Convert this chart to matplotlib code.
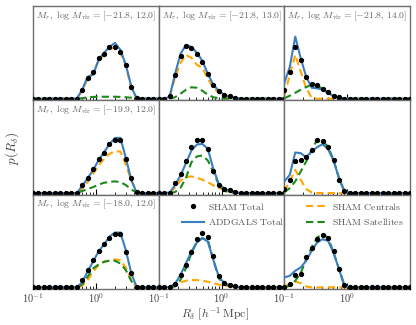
import numpy as np
import matplotlib
matplotlib.use("Agg")
import matplotlib.pyplot as plt
from matplotlib.lines import Line2D

plt.rcParams['mathtext.fontset'] = 'cm'
plt.rcParams['font.family'] = ['DejaVu Serif']

# bin centres (R_delta, h^-1 Mpc)
R = np.logspace(-1, 1, 24)

def pad(v, n=24):
    return list(v) + [0] * (n - len(v))

# ---- row 0 ----
P00_sham = pad([0,0,0,0,0,0,0,0,0,9,20.7,27.3,40.7,44.7,52.3,51.7,47.3,34,11.7,1])
P00_add  = pad([0,0,0,0,0,0,0,0,0,9,22,24,39,46,52,56,49,34,12,0])
P00_cen  = pad([0,0,0,0,0,0,0,0,0,8,20,26,38,44,50,51,46,33,11,0])
P00_sat  = pad([0,0,0,0,0,0,0,0,0,0.5,1.5,1.8,2,2,2,2,1.8,1.5,1,0.3])

P01_sham = pad([0,0,2.3,24,43,53,51.3,44.7,37.3,25,14,8,4,2.3,1])
P01_add  = pad([0,0,2,25,45,54,52,46,38,25,14,8,4,2,1])
P01_cen  = pad([0,0,2,21,36,44,41,34,31,20,11,6,3,1.5,0.5])
P01_sat  = pad([0,0,0,1.5,5,9,11.5,11,8,4,1.5,0.5])

P02_sham = pad([9,27.3,52.3,39,22.3,15,14,10,6.3,3,1.3])
P02_add  = pad([15.7,32,62.3,40.7,22,11,10.5,9,6,2.5,0.5])
P02_cen  = pad([3,24,44,27.3,10.7,1])
P02_sat  = pad([0.5,3,6,9,11.7,14,13,10,6,3,1])

# ---- row 1 ----
P10_sham = pad([0,0,0,0,0,0,0,0,0,7.7,15.3,24.3,34.3,40,49.3,53.7,53.3,34,15.3,1])
P10_add  = pad([0,0,0,0,0,0,0,0,0,7,15,23,33,41,49,55.3,55.3,35,13,0])
P10_cen  = pad([0,0,0,0,0,0,0,0,0,4.3,11,19.3,27.7,34.3,39.3,42,41.7,28,12.7,1])
P10_sat  = pad([0,0,0,0,0,0,0,0,0,2,4,6,8.5,10.3,11.3,11.7,11,8,3.5,0.5])

P11_sham = pad([0,0,0.5,10,18.7,32.3,46,53.3,53.3,44.3,22,8,4.3,2.7,1])
P11_add  = pad([0,0,0.5,8,17.7,30,42.7,48.7,49.3,44.3,24.3,9.3,4.5,2.5,1.2])
P11_cen  = pad([0,0,0.5,5.3,12.7,16,16.7,15.3,13.3,11,7.7,5.3,3.3,2,1,0.3])
P11_sat  = pad([0,0,0,1,5.3,15.3,31,36.7,37.7,32.7,21,8.7,2.3,0.7,0.3])

P12_sham = pad([4,13.3,32.3,33.3,36,42.7,53.3,52.7,46.7,32.7,13.3,1.7])
P12_add  = pad([11.7,18.3,40.7,40,36,41.7,46,49,44,32.7,15,1.7])
P12_cen  = pad([1.7,11.7,23.3,13.3,4,0.7])
P12_sat  = pad([0.7,5,11.7,21.7,31.7,43.3,53.3,51.7,46.7,33.3,15,1.7])

# ---- row 2 ----
P20_sham = pad([0,0,0,0,0,0,0,0,0,7.3,17.3,27.3,36.7,43.3,50,54,54,36,14.7,0.7])
P20_add  = pad([0,0,0,0,0,0,0,0,0,5,16,26,36,43,51,55,55,37,14,0])
P20_cen  = pad([0,0,0,0,0,0,0,0,0,1.7,7.3,15.7,22.3,25.7,27.3,28,27.3,19.7,7.3,0])
P20_sat  = pad([0,0,0,0,0,0,0,0,0,3,10.7,19,23,25.7,26.7,26.7,24,17.3,6.3,0])

P21_sham = pad([0,0,0.3,3.7,12.7,22.7,36,48.3,54.3,51,31,11,4.3,2.7,1])
P21_add  = pad([0,0,0.3,3.7,12.7,24.3,36,45,49.3,46,27.7,11,4.3,2.3,1])
P21_cen  = pad([0,0,0.7,2.7,5,6.7,7.3,7.3,6.7,5.7,4.3,2.7,1.7,1,0.3])
P21_sat  = pad([0,0,0,1,7.7,19.3,34.3,46,49.3,47.7,27.7,9.3,3.3,1.7,0.7])

P22_sham = pad([0,3.3,12.3,13.3,30,40,49,52.7,50,36.7,18.3,2.3])
P22_add  = pad([10,11.7,16.7,20,26.7,36.7,45,48.3,46.7,35,18.3,1.7])
P22_cen  = pad([1,3.3,6,4.3,1])
P22_sat  = pad([0,1.7,6.7,14.3,28.3,40,50,53.3,50,35,19,1.7])

panels = [
    [(P00_sham, P00_add, P00_cen, P00_sat),
     (P01_sham, P01_add, P01_cen, P01_sat),
     (P02_sham, P02_add, P02_cen, P02_sat)],
    [(P10_sham, P10_add, P10_cen, P10_sat),
     (P11_sham, P11_add, P11_cen, P11_sat),
     (P12_sham, P12_add, P12_cen, P12_sat)],
    [(P20_sham, P20_add, P20_cen, P20_sat),
     (P21_sham, P21_add, P21_cen, P21_sat),
     (P22_sham, P22_add, P22_cen, P22_sat)],
]

labels = {
    (0, 0): r"$M_r,\ \log\,M_{\rm vir}\,{=}[-21.8,\,12.0]$",
    (0, 1): r"$M_r,\ \log\,M_{\rm vir}\,{=}[-21.8,\,13.0]$",
    (0, 2): r"$M_r,\ \log\,M_{\rm vir}\,{=}[-21.8,\,14.0]$",
    (1, 0): r"$M_r,\ \log\,M_{\rm vir}\,{=}[-19.9,\,12.0]$",
    (2, 0): r"$M_r,\ \log\,M_{\rm vir}\,{=}[-18.0,\,12.0]$",
}

BLUE = '#3a7ebf'
ORANGE = '#ffa500'
GREEN = '#1a8a1a'
SPINE = '#6e6e6e'

fig, axes = plt.subplots(3, 3, figsize=(4.16, 3.25), dpi=100, sharex=True, sharey=True)
fig.subplots_adjust(left=33/416, right=410/416, top=1-6/325, bottom=1-289/325,
                    wspace=0, hspace=0)

for i in range(3):
    for j in range(3):
        ax = axes[i, j]
        sham, add, cen, sat = panels[i][j]
        ax.plot(R, add, color=BLUE, lw=1.5, zorder=3)
        ax.plot(R, cen, color=ORANGE, lw=1.5, ls=(0, (3.5, 2)), zorder=2)
        ax.plot(R, sat, color=GREEN, lw=1.5, ls=(0, (3.5, 2)), zorder=2)
        ax.plot(R, sham, 'o', color='black', ms=2.8, zorder=4)
        ax.set_xscale('log')
        for s in ax.spines.values():
            s.set_color(SPINE)
            s.set_linewidth(1.0)
        ax.tick_params(axis='x', which='major', direction='in', length=4, width=0.8,
                       colors='black', labelsize=7.5, labelcolor='#444444', pad=2)
        ax.tick_params(axis='x', which='minor', direction='in', length=2, width=0.6,
                       colors='black')
        ax.tick_params(axis='y', which='both', left=False, labelleft=False)
        if (i, j) in labels:
            ax.text(0.025, 0.965, labels[(i, j)], transform=ax.transAxes,
                    ha='left', va='top', fontsize=7.0, color='#666666')

axes[0, 0].set_xlim(0.1, 10)
axes[0, 0].set_ylim(-1.6, 93)
axes[0, 0].set_xticks([0.1, 1])
for j in range(3):
    axes[2, j].set_xticklabels([r'$10^{-1}$', r'$10^{0}$'])

fig.text(215/416, 1-314/325, r"$R_\delta\ [h^{-1}\,\mathrm{Mpc}]$", ha='center',
         va='center', fontsize=8.5, color='#444444')
fig.text(12/416, 1-148/325, r"$p(R_\delta)$", ha='center', va='center',
         rotation=90, fontsize=9.5, color='#444444')

handles = [
    Line2D([], [], marker='o', ls='none', color='black', ms=2.8),
    Line2D([], [], color=BLUE, lw=1.5),
    Line2D([], [], color=ORANGE, lw=1.5, ls=(0, (3.5, 2))),
    Line2D([], [], color=GREEN, lw=1.5, ls=(0, (3.5, 2))),
]
leg_labels = [r"$\rm SHAM\ Total$", r"$\rm ADDGALS\ Total$",
              r"$\rm SHAM\ Centrals$", r"$\rm SHAM\ Satellites$"]
fig.legend(handles, leg_labels, ncol=2, loc='center',
           bbox_to_anchor=(293/416, 1-214/325), frameon=False, fontsize=7.0,
           handlelength=2.3, handletextpad=0.4, columnspacing=2.2,
           labelspacing=0.5, labelcolor='#555555')

fig.savefig('out.png', dpi=100)
